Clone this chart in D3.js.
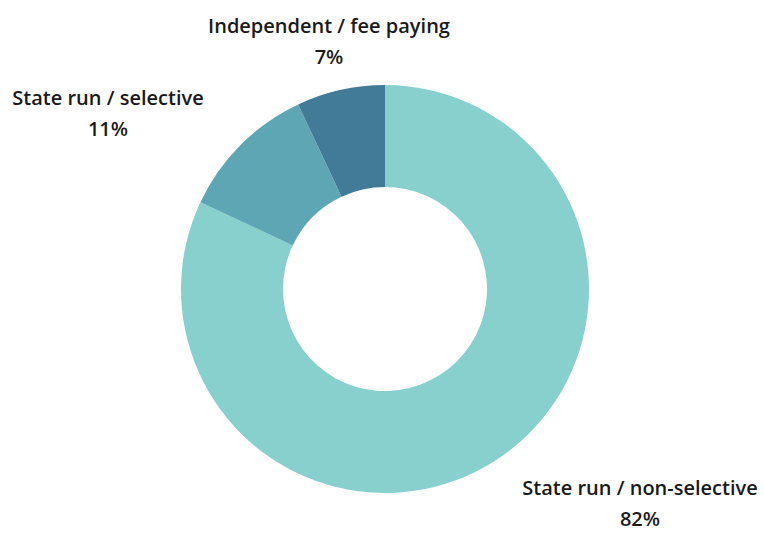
<!DOCTYPE html>
<html>
<head>
<meta charset="utf-8">
<script src="https://cdn.jsdelivr.net/npm/d3@7"></script>
<style>
  html, body { margin: 0; padding: 0; background: #fff; }
  text { font-family: "Open Sans", sans-serif; font-weight: 600; fill: #1a1a1a; }
</style>
</head>
<body>
<div id="chart"></div>
<script>
// data
var categories = ["State run / non-selective", "State run / selective", "Independent / fee paying"];
var shares = [82, 11, 7];
var colors = ["#87d0ce", "#5fa6b4", "#427b98"];

var width = 764, height = 533;
var cx = 385, cy = 289;
var outerR = 204, innerR = 102;

// label anchor (centre of first line, baseline) for each slice
var labelPos = [[640, 495], [108, 105], [329, 33]];
var lineGap = 31;

var svg = d3.select("#chart").append("svg")
    .attr("width", width)
    .attr("height", height);

var pie = d3.pie().sort(null).value(function (d) { return d; });
var arc = d3.arc().innerRadius(innerR).outerRadius(outerR);

var g = svg.append("g").attr("transform", "translate(" + cx + "," + cy + ")");

g.selectAll("path")
    .data(pie(shares))
    .enter()
    .append("path")
    .attr("d", arc)
    .style("fill", function (d, i) { return colors[i]; });

var labels = svg.selectAll("g.label")
    .data(categories)
    .enter()
    .append("g")
    .attr("class", "label")
    .attr("transform", function (d, i) { return "translate(" + labelPos[i][0] + "," + labelPos[i][1] + ")"; });

labels.append("text")
    .attr("text-anchor", "middle")
    .style("font-size", "20px")
    .text(function (d) { return d; });

labels.append("text")
    .attr("text-anchor", "middle")
    .attr("y", lineGap)
    .style("font-size", "20px")
    .text(function (d, i) { return shares[i] + "%"; });
</script>
</body>
</html>
